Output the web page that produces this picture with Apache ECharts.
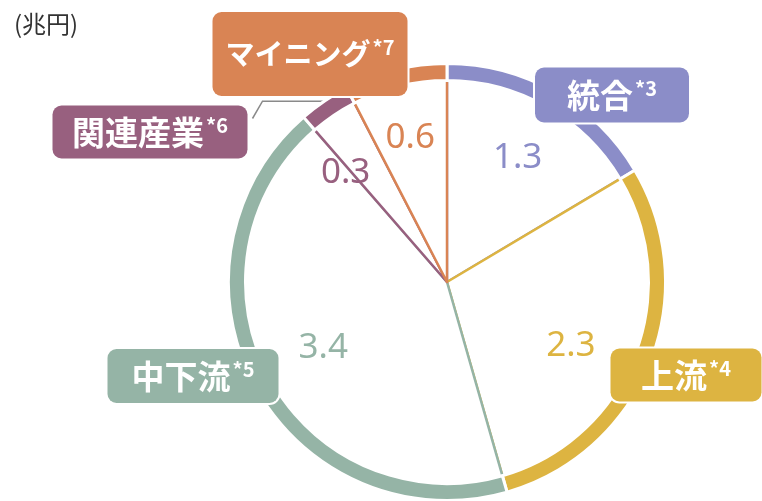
<!DOCTYPE html>
<html>
<head>
<meta charset="utf-8">
<script src="https://cdn.jsdelivr.net/npm/echarts@6/dist/echarts.min.js"></script>
<style>
html,body{margin:0;padding:0;background:#fff;}
#chart{width:762px;height:501px;}
</style>
</head>
<body>
<div id="chart"></div>
<script>
// ---- data ----
const categories = ['統合', '上流', '中下流', '関連産業', 'マイニング'];
const noteMarks = ['3', '4', '5', '6', '7'];
const values = [1.3, 2.3, 3.4, 0.3, 0.6];
const unitLabel = '(兆円)';

// ---- styles ----
const colors = ['#8B8DC8', '#DDB441', '#95B4A6', '#98607F', '#D98454'];
const boxCenters = [[612, 95], [686, 375], [193, 376], [150, 132], [310, 54]];
const boxSizes = [[154, 55], [151, 53], [171, 54], [195, 53], [195, 84]];
const nameFontSizes = [33, 33, 33, 33, 29];
const valueOffsets = [[0, 0], [-9, 11], [2, -2], [-21, 9], [-3, -5]];
const center = [447, 282];
const LINE_H = 40;
const FONT = '"Noto Sans CJK JP", "Noto Sans", sans-serif';

const chart = echarts.init(document.getElementById('chart'), null, {renderer: 'canvas'});

const ringData = categories.map((name, i) => ({
  name: name,
  value: values[i],
  itemStyle: {color: colors[i]},
  label: {
    show: true,
    formatter: '{n|' + name + '}{s|*' + noteMarks[i] + '}',
    backgroundColor: colors[i],
    borderColor: '#ffffff',
    borderWidth: 2,
    borderRadius: 9,
    width: boxSizes[i][0],
    padding: [(boxSizes[i][1] - LINE_H) / 2, 0],
    align: 'center',
    verticalAlign: 'middle',
    rich: {
      n: {fontSize: nameFontSizes[i], fontWeight: 'bold', color: '#fff', fontFamily: FONT, lineHeight: LINE_H},
      s: {fontSize: 20, fontWeight: 'bold', color: '#fff', fontFamily: FONT, padding: [0, 0, 13, 2], lineHeight: LINE_H}
    }
  },
  labelLine: {show: i === 3, lineStyle: {color: '#8a8a8a', width: 1.5}}
}));

const innerData = categories.map((name, i) => ({
  name: name,
  value: values[i],
  itemStyle: {color: '#ffffff', borderColor: colors[i], borderWidth: 2.5}
}));

const valueData = categories.map((name, i) => ({
  name: name,
  value: values[i],
  label: {color: colors[i]}
}));

chart.setOption({
  animation: false,
  backgroundColor: '#ffffff',
  title: {
    text: unitLabel,
    left: 9,
    top: 7,
    textStyle: {fontSize: 24, fontWeight: 'normal', color: '#333', fontFamily: FONT}
  },
  series: [
    {
      type: 'pie',
      name: 'inner',
      center: center,
      radius: [0, 203],
      startAngle: 90,
      clockwise: true,
      silent: true,
      z: 1,
      label: {show: false},
      labelLine: {show: false},
      data: innerData
    },
    {
      type: 'pie',
      name: 'ring',
      center: center,
      radius: [201.5, 218.5],
      startAngle: 90,
      clockwise: true,
      silent: true,
      avoidLabelOverlap: false,
      z: 3,
      itemStyle: {borderColor: '#ffffff', borderWidth: 3},
      label: {position: 'outside'},
      labelLine: {length: 10, length2: 10},
      labelLayout: function (params) {
        const i = params.dataIndex;
        const out = {
          x: boxCenters[i][0],
          y: boxCenters[i][1],
          align: 'center',
          verticalAlign: 'middle'
        };
        if (i === 3) {
          const p0 = params.labelLinePoints ? params.labelLinePoints[0] : [327, 104];
          const boxRight = boxCenters[i][0] + boxSizes[i][0] / 2;
          const boxTop = boxCenters[i][1] - boxSizes[i][1] / 2;
          out.labelLinePoints = [
            [p0[0], p0[1]],
            [boxRight + 15, p0[1]],
            [boxRight + 5, boxTop + 13]
          ];
        }
        return out;
      },
      data: ringData
    },
    {
      type: 'pie',
      name: 'values',
      center: center,
      radius: [0, 280],
      startAngle: 90,
      clockwise: true,
      silent: true,
      z: 4,
      itemStyle: {color: 'rgba(0,0,0,0)'},
      label: {
        show: true,
        position: 'inside',
        formatter: function (p) { return p.value.toFixed(1); },
        fontSize: 35,
        fontWeight: 'normal',
        fontFamily: '"Noto Sans", sans-serif'
      },
      labelLine: {show: false},
      labelLayout: function (params) {
        const o = valueOffsets[params.dataIndex];
        return {dx: o[0], dy: o[1]};
      },
      data: valueData
    }
  ]
});
</script>
</body>
</html>
